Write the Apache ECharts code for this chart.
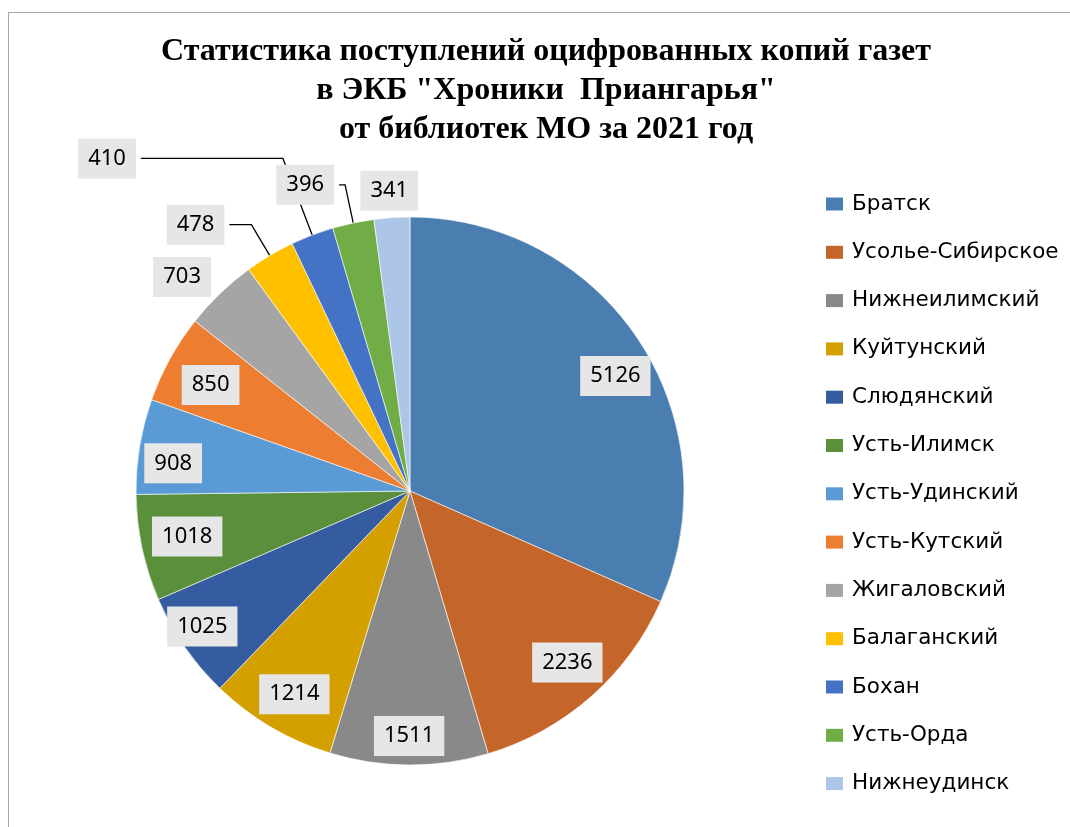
<!DOCTYPE html>
<html>
<head>
<meta charset="utf-8">
<script src="https://cdn.jsdelivr.net/npm/echarts@6/dist/echarts.min.js"></script>
<style>
  html, body { margin: 0; padding: 0; background: #fff; }
  #frame { position: absolute; left: 8px; top: 12px; width: 1100px; height: 900px;
           border-left: 1px solid #a6a6a6; border-top: 1px solid #a6a6a6; }
  #main { position: absolute; left: 0; top: 0; width: 1070px; height: 827px; }
</style>
</head>
<body>
<div id="frame"></div>
<div id="main"></div>
<script>
  // поступления по библиотекам МО за 2021 год
  const districts = ['Братск', 'Усолье-Сибирское', 'Нижнеилимский', 'Куйтунский', 'Слюдянский',
    'Усть-Илимск', 'Усть-Удинский', 'Усть-Кутский', 'Жигаловский', 'Балаганский', 'Бохан',
    'Усть-Орда', 'Нижнеудинск']
  const copies = [5126, 2236, 1511, 1214, 1025, 1018, 908, 850, 703, 478, 410, 396, 341]

  const colors = ['#4a7eb0', '#c4662a', '#898989', '#d4a000', '#355ca0', '#5a8f3b', '#5b9bd5',
    '#ed7d31', '#a5a5a5', '#ffc000', '#4472c4', '#70ad47', '#adc5e7']

  // маленькие сектора подписываются снаружи
  const firstOutside = 8
  const lineLen = [16, 36, 82, 39, 27]
  const lineLen2 = [0, 22, 142, 6, 0]
  const lineShow = [false, true, true, true, false]
  // небольшие сдвиги подписей, как в исходной диаграмме
  const nudge = [[6, 15], [0, -7], [0, 7], [5, -2], [-12, 0], [10, -4], [-2, 11], [9, 9],
    [7, -5], [0, 0], [0, 0], [0, 0], [33, 0]]

  const labelBox = {
    formatter: '{c}',
    color: '#000',
    fontFamily: 'Noto Sans',
    fontSize: 22,
    lineHeight: 22,
    backgroundColor: '#e6e6e6',
    padding: [9, 10]
  }

  function shift(params) {
    const d = nudge[params.dataIndex]
    return { dx: d[0], dy: d[1] }
  }

  const pieData = districts.map((name, i) => {
    const item = { name: name, value: copies[i], itemStyle: { color: colors[i] } }
    if (i < firstOutside) {
      item.label = { show: false }
    } else {
      const k = i - firstOutside
      item.label = Object.assign({ show: true, position: 'outside' }, labelBox)
      item.labelLine = { show: lineShow[k], length: lineLen[k], length2: lineLen2[k],
        lineStyle: { color: '#000', width: 1.3 } }
    }
    return item
  })

  // прозрачное кольцо только для подписей внутри больших секторов
  const ringData = districts.map((name, i) => ({
    name: name,
    value: copies[i],
    label: i < firstOutside ? Object.assign({ show: true, position: 'inside' }, labelBox) : { show: false }
  }))

  const chart = echarts.init(document.getElementById('main'))
  const option = {
    animation: false,
    title: {
      text: 'Статистика поступлений оцифрованных копий газет\nв ЭКБ "Хроники  Приангарья"\nот библиотек МО за 2021 год',
      left: 546,
      top: 32,
      padding: 0,
      textAlign: 'center',
      textStyle: {
        fontFamily: 'Liberation Serif',
        fontWeight: 'bold',
        fontSize: 32,
        lineHeight: 39,
        color: '#000'
      }
    },
    legend: {
      orient: 'vertical',
      left: 826,
      top: 193,
      padding: 0,
      itemWidth: 17,
      itemHeight: 13,
      itemGap: 26.3,
      icon: 'rect',
      data: districts,
      itemStyle: { borderWidth: 0 },
      textStyle: {
        fontFamily: 'DejaVu Sans',
        fontSize: 21.5,
        lineHeight: 14,
        color: '#000',
        padding: [0, 0, 0, 4]
      }
    },
    series: [
      {
        name: 'main',
        type: 'pie',
        center: [410, 491],
        radius: [0, 274],
        startAngle: 90,
        clockwise: true,
        avoidLabelOverlap: false,
        minShowLabelAngle: 0,
        itemStyle: { borderColor: '#fff', borderWidth: 0.6 },
        emphasis: { disabled: true },
        labelLayout: shift,
        data: pieData
      },
      {
        name: 'labels',
        type: 'pie',
        center: [410, 491],
        radius: [196, 274],
        startAngle: 90,
        silent: true,
        avoidLabelOverlap: false,
        itemStyle: { color: 'rgba(0,0,0,0)', borderWidth: 0 },
        emphasis: { disabled: true },
        labelLine: { show: false },
        labelLayout: shift,
        data: ringData
      }
    ]
  }
  chart.setOption(option)
</script>
</body>
</html>
